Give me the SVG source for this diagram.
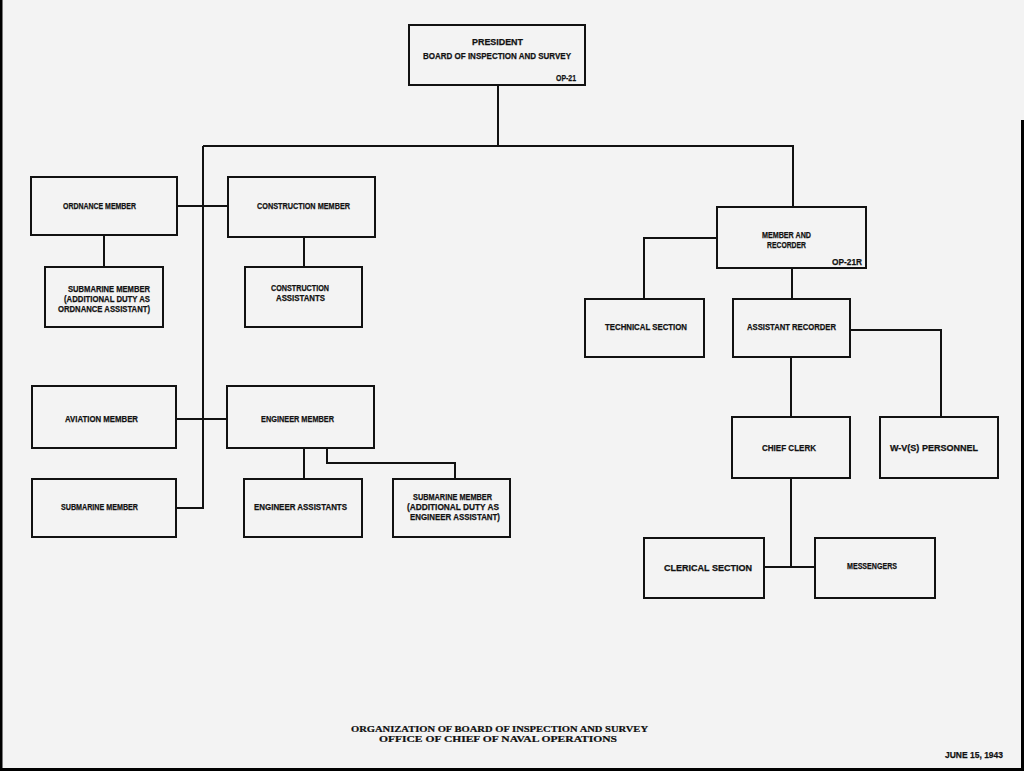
<svg xmlns="http://www.w3.org/2000/svg" width="1024" height="771" viewBox="0 0 1024 771">
<style>
.box{fill:none;stroke:#111;stroke-width:2}
.ln{fill:none;stroke:#111;stroke-width:2}
.edge{fill:none;stroke:#000;stroke-width:3}
.t{font-family:"Liberation Sans",Arial,sans-serif;font-weight:bold;font-size:9.3px;fill:#111;stroke:#111;stroke-width:0.25;text-anchor:start}
.f{font-family:"Liberation Serif","Times New Roman",serif;font-weight:bold;font-size:8.5px;fill:#111;stroke:#111;stroke-width:0.2}
</style>
<rect x="0" y="0" width="1024" height="771" fill="#f3f3f3"/>
<path class="edge" d="M1 0V771M0 769.5H1024M1022.5 120V771"/>
<g id="connectors">
<path class="ln" d="M498 85V146M203 146H793V207M203 146V508H176"/>
<path class="ln" d="M177 206H228M104 235V267M304 237V267"/>
<path class="ln" d="M176 419H227M304 448V479M327 448V463H455V479"/>
<path class="ln" d="M717 238H644V299M792 268V299M850 330H941V417M791 357V417M791 478V567M764 567H815"/>
</g>
<g id="president">
<rect class="box" x="409" y="25" width="176" height="60"/>
<text class="t" x="472" y="44.5" textLength="51" lengthAdjust="spacingAndGlyphs">PRESIDENT</text>
<text class="t" x="423" y="58.5" textLength="148" lengthAdjust="spacingAndGlyphs">BOARD OF INSPECTION AND SURVEY</text>
<text class="t" x="556" y="81" textLength="20" lengthAdjust="spacingAndGlyphs">OP-21</text>
</g>
<g id="ordnance">
<rect class="box" x="31" y="177" width="146" height="58"/>
<text class="t" x="63" y="209" textLength="73" lengthAdjust="spacingAndGlyphs">ORDNANCE MEMBER</text>
</g>
<g id="construction">
<rect class="box" x="228" y="177" width="147" height="60"/>
<text class="t" x="257" y="209" textLength="93" lengthAdjust="spacingAndGlyphs">CONSTRUCTION MEMBER</text>
</g>
<g id="sub-ordnance">
<rect class="box" x="45" y="267" width="118" height="60"/>
<text class="t" x="68" y="292" textLength="82" lengthAdjust="spacingAndGlyphs">SUBMARINE MEMBER</text>
<text class="t" x="64" y="302" textLength="86" lengthAdjust="spacingAndGlyphs">(ADDITIONAL DUTY AS</text>
<text class="t" x="58" y="312" textLength="92" lengthAdjust="spacingAndGlyphs">ORDNANCE ASSISTANT)</text>
</g>
<g id="construction-assistants">
<rect class="box" x="245" y="267" width="117" height="60"/>
<text class="t" x="271" y="291" textLength="58" lengthAdjust="spacingAndGlyphs">CONSTRUCTION</text>
<text class="t" x="276" y="301" textLength="49" lengthAdjust="spacingAndGlyphs">ASSISTANTS</text>
</g>
<g id="aviation">
<rect class="box" x="32" y="386" width="144" height="62"/>
<text class="t" x="65" y="422" textLength="73" lengthAdjust="spacingAndGlyphs">AVIATION MEMBER</text>
</g>
<g id="engineer">
<rect class="box" x="227" y="386" width="147" height="62"/>
<text class="t" x="261" y="422" textLength="73" lengthAdjust="spacingAndGlyphs">ENGINEER MEMBER</text>
</g>
<g id="submarine">
<rect class="box" x="32" y="479" width="144" height="58"/>
<text class="t" x="61" y="510" textLength="77" lengthAdjust="spacingAndGlyphs">SUBMARINE MEMBER</text>
</g>
<g id="engineer-assistants">
<rect class="box" x="244" y="479" width="118" height="58"/>
<text class="t" x="254" y="510" textLength="93" lengthAdjust="spacingAndGlyphs">ENGINEER ASSISTANTS</text>
</g>
<g id="sub-engineer">
<rect class="box" x="393" y="479" width="117" height="58"/>
<text class="t" x="413" y="500" textLength="79" lengthAdjust="spacingAndGlyphs">SUBMARINE MEMBER</text>
<text class="t" x="407" y="510" textLength="92" lengthAdjust="spacingAndGlyphs">(ADDITIONAL DUTY AS</text>
<text class="t" x="410" y="520" textLength="90" lengthAdjust="spacingAndGlyphs">ENGINEER ASSISTANT)</text>
</g>
<g id="member-recorder">
<rect class="box" x="717" y="207" width="149" height="61"/>
<text class="t" x="762" y="238" textLength="49" lengthAdjust="spacingAndGlyphs">MEMBER AND</text>
<text class="t" x="767" y="248" textLength="39" lengthAdjust="spacingAndGlyphs">RECORDER</text>
<text class="t" x="832" y="265" textLength="30" lengthAdjust="spacingAndGlyphs">OP-21R</text>
</g>
<g id="technical">
<rect class="box" x="585" y="299" width="119" height="58"/>
<text class="t" x="605" y="330" textLength="82" lengthAdjust="spacingAndGlyphs">TECHNICAL SECTION</text>
</g>
<g id="assistant-recorder">
<rect class="box" x="733" y="299" width="117" height="58"/>
<text class="t" x="747" y="330" textLength="89" lengthAdjust="spacingAndGlyphs">ASSISTANT RECORDER</text>
</g>
<g id="chief-clerk">
<rect class="box" x="732" y="417" width="118" height="61"/>
<text class="t" x="762" y="451" textLength="54" lengthAdjust="spacingAndGlyphs">CHIEF CLERK</text>
</g>
<g id="wv-personnel">
<rect class="box" x="880" y="417" width="118" height="61"/>
<text class="t" x="890" y="451" textLength="88" lengthAdjust="spacingAndGlyphs">W-V(S) PERSONNEL</text>
</g>
<g id="clerical">
<rect class="box" x="644" y="538" width="120" height="60"/>
<text class="t" x="664" y="571" textLength="88" lengthAdjust="spacingAndGlyphs">CLERICAL SECTION</text>
</g>
<g id="messengers">
<rect class="box" x="815" y="538" width="120" height="60"/>
<text class="t" x="847" y="569" textLength="50" lengthAdjust="spacingAndGlyphs">MESSENGERS</text>
</g>
<g id="footer">
<text class="f" x="351" y="732" textLength="297" lengthAdjust="spacingAndGlyphs">ORGANIZATION OF BOARD OF INSPECTION AND SURVEY</text>
<text class="f" x="379" y="741.5" textLength="238" lengthAdjust="spacingAndGlyphs">OFFICE OF CHIEF OF NAVAL OPERATIONS</text>
<text class="t" x="945" y="758" font-size="8.5" textLength="58" lengthAdjust="spacingAndGlyphs">JUNE 15, 1943</text>
</g>
</svg>
